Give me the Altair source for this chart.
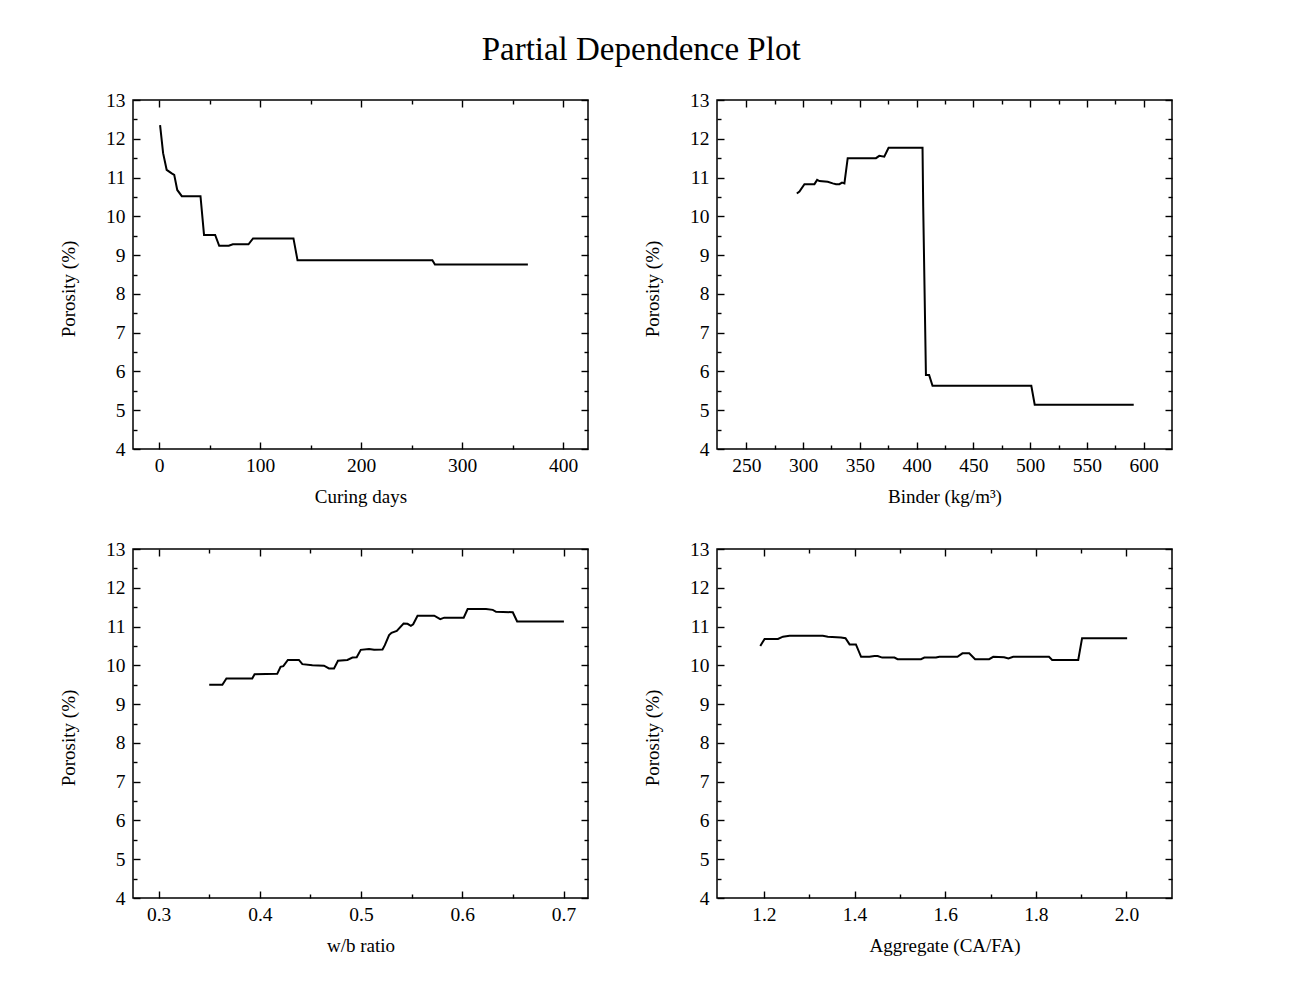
import altair as alt
import pandas as pd

CHART_TITLE = "Partial Dependence Plot"
Y_TITLE = "Porosity (%)"

# Panel 1: Curing days
curing_x = [1, 4, 7.5, 12.5, 15, 18, 22.5, 41, 44.5, 55.5, 59.5, 69, 73, 88.5, 93, 133, 137, 270.5, 273, 365]
curing_y = [12.35, 11.63, 11.2, 11.11, 11.07, 10.68, 10.52, 10.52, 9.52, 9.52, 9.24, 9.24, 9.28, 9.28,
            9.43, 9.43, 8.87, 8.87, 8.76, 8.76]

# Panel 2: Binder (kg/m3)
binder_x = [294.5, 296.8, 301.2, 310, 312.4, 314.4, 321.7, 326.1, 329, 332, 334.3, 336.4, 339.3, 364.2,
            367.1, 371.5, 375.3, 405.2, 405.8, 408.2, 411, 414, 501, 504, 591.2]
binder_y = [10.59, 10.64, 10.83, 10.83, 10.94, 10.91, 10.89, 10.85, 10.83, 10.83, 10.87, 10.85, 11.50,
            11.50, 11.56, 11.54, 11.77, 11.77, 10.25, 5.91, 5.91, 5.63, 5.63, 5.14, 5.14]

# Panel 3: w/b ratio
wb_x = [0.350, 0.363, 0.367, 0.3925, 0.3948, 0.4172, 0.4205, 0.4232, 0.4277, 0.4386, 0.442, 0.4519,
        0.4634, 0.4683, 0.4733, 0.4772, 0.4865, 0.4915, 0.4957, 0.4997, 0.5079, 0.5129, 0.5212, 0.5235,
        0.5277, 0.5301, 0.5353, 0.542, 0.5459, 0.5492, 0.5515, 0.5558, 0.5723, 0.5782, 0.5822, 0.6014,
        0.6053, 0.6235, 0.6301, 0.6334, 0.6499, 0.6542, 0.7004]
wb_y = [9.5, 9.5, 9.66, 9.66, 9.77, 9.78, 9.96, 9.98, 10.14, 10.14, 10.03, 10.0, 9.99, 9.92, 9.92, 10.12,
        10.14, 10.20, 10.21, 10.40, 10.42, 10.40, 10.41, 10.52, 10.78, 10.84, 10.89, 11.08, 11.07, 11.02,
        11.06, 11.28, 11.28, 11.19, 11.23, 11.23, 11.45, 11.45, 11.43, 11.38, 11.37, 11.13, 11.13]

# Panel 4: Aggregate (CA/FA)
agg_x = [1.192, 1.2015, 1.231, 1.242, 1.2566, 1.330, 1.341, 1.370, 1.380, 1.389, 1.403, 1.4144, 1.4327,
         1.444, 1.451, 1.461, 1.488, 1.495, 1.5466, 1.554, 1.5796, 1.587, 1.627, 1.638, 1.653, 1.666,
         1.697, 1.706, 1.730, 1.7395, 1.750, 1.829, 1.836, 1.8935, 1.902, 2.0014]
agg_y = [10.50, 10.68, 10.68, 10.74, 10.76, 10.76, 10.74, 10.72, 10.70, 10.54, 10.54, 10.22, 10.22,
         10.24, 10.24, 10.20, 10.20, 10.16, 10.16, 10.20, 10.20, 10.22, 10.22, 10.31, 10.31, 10.16,
         10.16, 10.22, 10.21, 10.18, 10.22, 10.22, 10.14, 10.14, 10.70, 10.70]

x_titles = ["Curing days", "Binder (kg/m³)", "w/b ratio", "Aggregate (CA/FA)"]
x_domains = [[-25.8, 424.5], [224.2, 624.9], [0.2747, 0.7242], [1.0965, 2.1004]]
x_major = [[0, 100, 200, 300, 400],
           [250, 300, 350, 400, 450, 500, 550, 600],
           [0.3, 0.4, 0.5, 0.6, 0.7],
           [1.2, 1.4, 1.6, 1.8, 2.0]]
x_minor = [[50, 150, 250, 350],
           [275, 325, 375, 425, 475, 525, 575],
           [0.35, 0.45, 0.55, 0.65],
           [1.3, 1.5, 1.7, 1.9]]
x_formats = ["d", "d", ".1f", ".1f"]
y_domain = [4, 13]
y_major = [4, 5, 6, 7, 8, 9, 10, 11, 12, 13]
y_minor = [4.5, 5.5, 6.5, 7.5, 8.5, 9.5, 10.5, 11.5, 12.5]

W, H = 455, 349
FONT = "Liberation Serif"


def panel(xs, ys, xtitle, domain, major, minor, fmt):
    df = pd.DataFrame({"x": xs, "y": ys})
    xsc = alt.Scale(domain=domain, nice=False, zero=False)
    ysc = alt.Scale(domain=y_domain, nice=False, zero=False)
    base = alt.Chart(df)
    line = base.mark_line(color="black", strokeWidth=2).encode(
        x=alt.X("x:Q", scale=xsc,
                axis=alt.Axis(orient="bottom", title=xtitle, values=major, format=fmt, ticks=False,
                              domain=False, grid=False, labelPadding=7, titlePadding=13,
                              labelFlush=False)),
        y=alt.Y("y:Q", scale=ysc,
                axis=alt.Axis(orient="left", title=Y_TITLE, values=y_major, format="d", ticks=False,
                              domain=False, grid=False, labelPadding=8, titlePadding=27,
                              titleY=H / 2 + 14, labelFlush=False)),
    )

    def ticks(xorient, yorient, xvals, yvals, size):
        return base.mark_line(opacity=0).encode(
            x=alt.X("x:Q", scale=xsc,
                    axis=alt.Axis(orient=xorient, offset=-H, values=xvals, labels=False, title=None,
                                  domain=False, grid=False, tickSize=size, tickWidth=1.4,
                                  tickColor="black")),
            y=alt.Y("y:Q", scale=ysc,
                    axis=alt.Axis(orient=yorient, offset=-W, values=yvals, labels=False, title=None,
                                  domain=False, grid=False, tickSize=size, tickWidth=1.4,
                                  tickColor="black")),
        )

    layers = [
        line,
        ticks("top", "right", major, y_major, 7),
        ticks("bottom", "left", major, y_major, 7),
        ticks("top", "right", minor, y_minor, 4),
        ticks("bottom", "left", minor, y_minor, 4),
    ]
    return (alt.layer(*layers)
            .resolve_axis(x="independent", y="independent")
            .properties(width=W, height=H))


panels = [
    panel(curing_x, curing_y, x_titles[0], x_domains[0], x_major[0], x_minor[0], x_formats[0]),
    panel(binder_x, binder_y, x_titles[1], x_domains[1], x_major[1], x_minor[1], x_formats[1]),
    panel(wb_x, wb_y, x_titles[2], x_domains[2], x_major[2], x_minor[2], x_formats[2]),
    panel(agg_x, agg_y, x_titles[3], x_domains[3], x_major[3], x_minor[3], x_formats[3]),
]

chart = (
    alt.concat(*panels, columns=2, spacing={"row": 100, "column": 129}, bounds="flush")
    .properties(
        title=alt.TitleParams(CHART_TITLE, font=FONT, fontSize=33, fontWeight="normal",
                              color="black", anchor="middle", offset=22, dx=25),
        padding={"left": 58, "top": 34, "right": 5, "bottom": 5},
        background="white",
    )
    .configure_axis(labelFont=FONT, titleFont=FONT, labelFontSize=19.5, titleFontSize=19,
                    labelColor="black", titleColor="black", titleFontWeight="normal")
    .configure_view(stroke="black", strokeWidth=1.5)
)

chart.save("out.html", embed_options={"renderer": "svg", "actions": False})
